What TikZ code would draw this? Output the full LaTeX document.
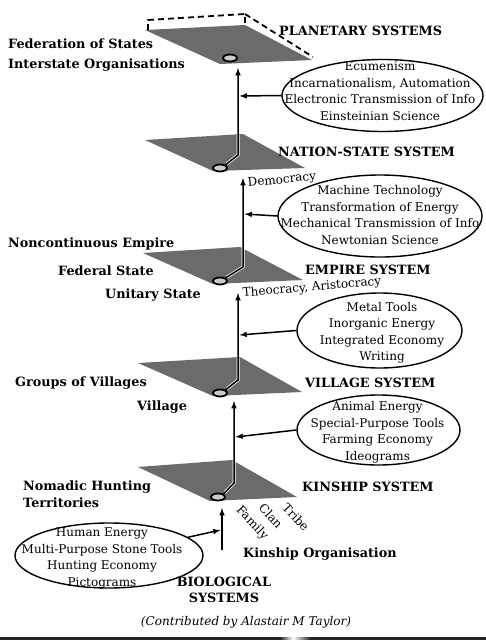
\documentclass[tikz,border=0pt]{standalone}
\usepackage{fontspec}
\setmainfont{DejaVu Serif}
\usetikzlibrary{positioning, shapes, arrows}

\tikzset{
	levelplane/.style={fill=black!58},
	hubring/.style={draw, ellipse, line width=1.8pt, fill=black!20, minimum width=14pt, minimum height=7pt, inner sep=0pt},
	traitoval/.style={draw, ellipse, line width=1.4pt, inner sep=0pt},
	ovaltext/.style={align=center, inner sep=0pt, font=\fontsize{12}{16.5}\selectfont},
	system/.style={anchor=base west, inner sep=0pt, font=\fontsize{12.8}{16}\selectfont\bfseries},
	trend/.style={inner sep=0pt, font=\fontsize{12}{14}\selectfont},
	riseline/.style={-latex, line width=1.5pt},
	feedline/.style={-latex, line width=1.5pt},
	halo/.style={white, line width=3pt, shorten <=1.5pt},
	frame/.style={line width=1.8pt, dash pattern=on 6pt off 4pt}
}

\begin{document}
\begin{tikzpicture}[x=1pt, y=-1pt]
		
		\useasboundingbox (0,0) rectangle (486,640);
		
		%Planes of the five systems
		\fill[levelplane] (145,30) -- (245,25) -- (312,60) -- (220,64) -- cycle;
		\fill[levelplane] (145,140) -- (243,134) -- (305,168) -- (213,171) -- cycle;
		\fill[levelplane] (143,253) -- (240,247) -- (303,280) -- (213,284) -- cycle;
		\fill[levelplane] (138,363) -- (240,357) -- (302,392) -- (213,396) -- cycle;
		\fill[levelplane] (138,467) -- (232,460) -- (297,497) -- (210,501) -- cycle;
		
		%Dashed frame over the planetary plane
		\draw[frame] (148,30) -- (148,20) -- (245,14) -- (245,25);
		\draw[frame] (245,14) -- (313,57);
		
		%Rings on the planes
		\node (planetaryRing) at (230,58) [hubring]{};
		\node (nationRing) at (220,168) [hubring]{};
		\node (empireRing) at (220,281) [hubring]{};
		\node (villageRing) at (220,393) [hubring]{};
		\node (kinshipRing) at (218,497) [hubring]{};
		
		%Bends and tips of the rising lines
		\coordinate (nationBend) at (238,155);
		\coordinate (empireBend) at (243,267);
		\coordinate (villageBend) at (238,380);
		\coordinate (kinshipBend) at (234,483);
		\coordinate (planetaryTip) at (238,68);
		\coordinate (nationTip) at (243,178);
		\coordinate (empireTip) at (238,293);
		\coordinate (villageTip) at (234,401);
		\coordinate (kinshipTip) at (222,508);
		\coordinate (bioStart) at (222,550);
		
		%White edge where the lines cross the planes
		\draw[halo] (nationRing.north east) -- (nationBend) -- (238,135);
		\draw[halo] (empireRing.north east) -- (empireBend) -- (243,248);
		\draw[halo] (villageRing.north east) -- (villageBend) -- (238,358);
		\draw[halo] (kinshipRing.north east) -- (kinshipBend) -- (234,461);
		
		%Rising lines
		\draw[riseline] (nationRing.north east) -- (nationBend) -- (planetaryTip);
		\draw[riseline] (empireRing.north east) -- (empireBend) -- (nationTip);
		\draw[riseline] (villageRing.north east) -- (villageBend) -- (empireTip);
		\draw[riseline] (kinshipRing.north east) -- (kinshipBend) -- (villageTip);
		\draw[riseline] (bioStart) -- (kinshipTip);
		
		%Ovals
		\node (infoOval) at (382.5,95.5) [traitoval, minimum width=201pt, minimum height=72pt]{};
		\node (infoText) at (380,91) [ovaltext]{Ecumenism\\Incarnationalism, Automation\\Electronic Transmission of Info\\Einsteinian Science};
		
		\node (machineOval) at (380,216) [traitoval, minimum width=204pt, minimum height=82pt]{};
		\node (machineText) at (380,215) [ovaltext]{Machine Technology\\Transformation of Energy\\Mechanical Transmission of Info\\Newtonian Science};
		
		\node (metalOval) at (379.5,330.5) [traitoval, minimum width=165pt, minimum height=75pt]{};
		\node (metalText) at (382,333) [ovaltext]{Metal Tools\\Inorganic Energy\\Integrated Economy\\Writing};
		
		\node (farmOval) at (378.5,430) [traitoval, minimum width=163pt, minimum height=70pt]{};
		\node (farmText) at (377.5,432.5) [ovaltext]{Animal Energy\\Special-Purpose Tools\\Farming Economy\\Ideograms};
		
		\node (huntOval) at (109,555.5) [traitoval, minimum width=188pt, minimum height=65pt]{};
		\node (huntText) at (102,558.5) [ovaltext]{Human Energy\\Multi-Purpose Stone Tools\\Hunting Economy\\Pictograms};
		
		%Links from ovals to the rising lines
		\coordinate (infoJoin) at (239.5,96);
		\coordinate (machineJoin) at (244.5,214);
		\coordinate (metalJoin) at (239.5,335);
		\coordinate (farmJoin) at (235.5,437);
		\coordinate (huntJoin) at (220.5,530);
		
		\draw[feedline] (infoOval.west) -- (infoJoin);
		\draw[feedline] (machineOval.west) -- (machineJoin);
		\draw[feedline] (metalOval.west) -- (metalJoin);
		\draw[feedline] (farmOval.west) -- (farmJoin);
		\draw[feedline] (huntOval.13) -- (huntJoin);
		
		%System labels
		\node (planetaryLabel) at (279,35) [system]{PLANETARY SYSTEMS};
		\node (nationLabel) at (278,156) [system]{NATION-STATE SYSTEM};
		\node (empireLabel) at (305,274) [system]{EMPIRE SYSTEM};
		\node (villageLabel) at (305,387) [system]{VILLAGE SYSTEM};
		\node (kinshipLabel) at (302,491) [system]{KINSHIP SYSTEM};
		\node (bioLabel) at (224,590) [align=center, inner sep=0pt, font=\fontsize{12.8}{16}\selectfont\bfseries]{BIOLOGICAL\\SYSTEMS};
		
		%Territory labels
		\node (federationLabel) at (8,48) [system]{Federation of States};
		\node (interstateLabel) at (8,68) [system]{Interstate Organisations};
		\node (noncontinuousLabel) at (8,247) [system]{Noncontinuous Empire};
		\node (federalLabel) at (58,275) [system]{Federal State};
		\node (unitaryLabel) at (105,298) [system]{Unitary State};
		\node (groupsLabel) at (15,386) [system]{Groups of Villages};
		\node (villageUnitLabel) at (137,410) [system]{Village};
		\node (nomadicLabel) at (23,490) [system]{Nomadic Hunting};
		\node (territoriesLabel) at (23,507) [system]{Territories};
		\node (organisationLabel) at (243,557) [system]{Kinship Organisation};
		
		%Government and kin labels
		\node (democracyLabel) at (248,187) [trend, anchor=base west, rotate=6]{Democracy};
		\node (theocracyLabel) at (243,297) [trend, anchor=base west, rotate=5]{Theocracy, Aristocracy};
		\node (familyLabel) at (252,523) [trend, rotate=-47]{Family};
		\node (clanLabel) at (271,516) [trend, rotate=-47]{Clan};
		\node (tribeLabel) at (296,517) [trend, rotate=-47]{Tribe};
		
		\node (creditLabel) at (246,622) [inner sep=0pt, font=\fontsize{12}{14}\selectfont\itshape]{(Contributed by Alastair M Taylor)};
		
		%Bar at the foot
		\fill[black!85] (0,637) rectangle (280,640);
		\shade[left color=black!85, right color=white] (280,637) rectangle (293,640);
		\shade[left color=white, right color=black!85] (293,637) rectangle (310,640);
		\fill[black!85] (310,637) rectangle (486,640);
		
\end{tikzpicture}
\end{document}
